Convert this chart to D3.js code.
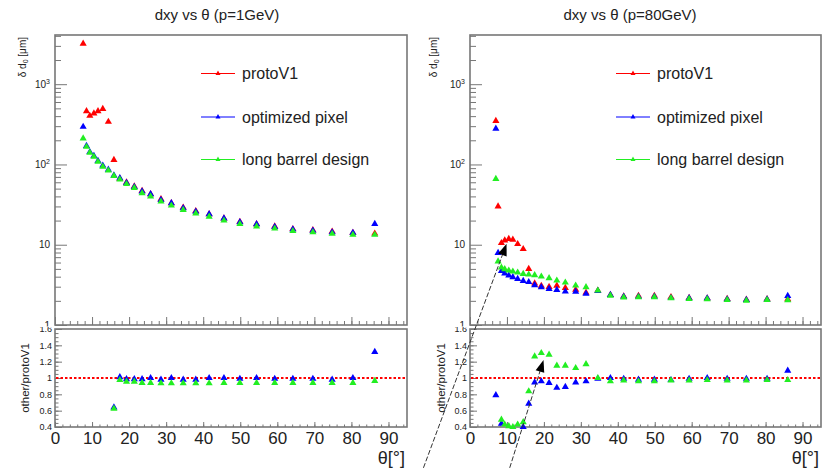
<!DOCTYPE html>
<html><head><meta charset="utf-8">
<script src="https://cdn.jsdelivr.net/npm/d3@7"></script>
<style>
body{margin:0;background:#fff}
text{font-family:"Liberation Sans",Arial,Helvetica,sans-serif}
</style>
</head><body>
<svg id="c" width="827" height="468"></svg>
<script>
// ---------- data ----------
const seriesNames = ["protoV1", "optimized pixel", "long barrel design"];
const seriesColors = ["#ff0000", "#0000ff", "#22ee22"];

// p = 1 GeV
const thetaL = [7.6, 8.5, 9.4, 10.5, 11.6, 12.9, 14.4, 15.9, 17.5, 19.3, 21.4, 23.5, 25.8, 28.6, 31.4, 34.6, 38.0, 41.6, 45.6, 49.9, 54.4, 59.3, 64.2, 69.6, 74.8, 80.4, 86.3];
const protoL = [3200, 462, 404, 432, 462, 493, 340, 114, 66.7, 59.7, 53.4, 46.8, 42.6, 36.9, 32.9, 29.1, 26.3, 24.0, 21.3, 19.3, 18.0, 16.9, 15.7, 15.2, 14.6, 14.1, 13.8];
const optL   = [295, 170, 143, 128, 111, 97, 86, 73, 67.4, 58.8, 52.6, 46.1, 42.6, 36.2, 32.9, 28.5, 25.8, 24.0, 21.3, 19.1, 18.0, 16.7, 15.5, 15.0, 14.3, 14.1, 18.2];
const longL  = [211, 166, 140, 125, 108, 94, 84, 72, 65, 57, 51, 44, 40, 34.5, 30.8, 27.2, 24.6, 22.4, 20.0, 18.1, 16.9, 15.9, 14.8, 14.3, 13.7, 13.3, 13.3];
const optRatioL  = [0.09, 0.37, 0.35, 0.30, 0.24, 0.20, 0.25, 0.64, 1.01, 0.985, 0.985, 0.985, 1.0, 0.98, 1.0, 0.98, 0.98, 1.0, 1.0, 0.99, 1.0, 0.99, 0.99, 0.99, 0.98, 1.0, 1.32];
const longRatioL = [0.066, 0.36, 0.35, 0.29, 0.23, 0.19, 0.25, 0.625, 0.975, 0.955, 0.955, 0.94, 0.94, 0.935, 0.935, 0.935, 0.935, 0.935, 0.94, 0.94, 0.94, 0.94, 0.94, 0.94, 0.94, 0.94, 0.965];

// p = 80 GeV
const thetaR = [7.0, 7.6, 8.5, 9.4, 10.5, 11.6, 12.9, 14.4, 15.9, 17.5, 19.3, 21.4, 23.5, 25.8, 28.6, 31.4, 34.6, 38.0, 41.6, 45.6, 49.9, 54.4, 59.3, 64.2, 69.6, 74.8, 80.4, 86.0];
const protoR = [348, 30, 10.5, 11.3, 11.8, 11.55, 10.2, 8.84, 5.0, 3.3, 3.08, 2.99, 3.09, 2.9, 2.76, 2.53, 2.69, 2.37, 2.28, 2.31, 2.31, 2.23, 2.18, 2.15, 2.11, 2.07, 2.10, 2.1];
const optR   = [279, 7.9, 4.73, 4.4, 4.15, 3.95, 3.75, 3.55, 3.43, 3.13, 2.96, 2.81, 2.74, 2.61, 2.6, 2.45, 2.66, 2.37, 2.26, 2.26, 2.26, 2.17, 2.16, 2.15, 2.09, 2.05, 2.08, 2.3];
const longR  = [66, 6.2, 5.2, 4.97, 4.77, 4.64, 4.5, 4.34, 4.25, 4.17, 4.02, 3.84, 3.58, 3.38, 3.1, 2.96, 2.69, 2.32, 2.21, 2.22, 2.22, 2.16, 2.11, 2.10, 2.05, 2.01, 2.05, 2.04];
const optRatioR  = [0.79, 0.26, 0.44, 0.38, 0.35, 0.34, 0.37, 0.40, 0.686, 0.947, 0.96, 0.94, 0.88, 0.89, 0.947, 0.96, 0.99, 1.0, 0.99, 0.98, 0.98, 0.975, 0.99, 1.0, 0.99, 0.99, 0.99, 1.09];
const longRatioR = [0.19, 0.21, 0.49, 0.43, 0.41, 0.40, 0.43, 0.46, 0.837, 1.265, 1.306, 1.286, 1.151, 1.151, 1.122, 1.17, 1.0, 0.96, 0.97, 0.96, 0.96, 0.97, 0.97, 0.975, 0.97, 0.97, 0.975, 0.975];

// tick labels
const xTicks = [0, 10, 20, 30, 40, 50, 60, 70, 80, 90];
const logTicks = [1, 10, 100, 1000];
const ratioTicks = [0.4, 0.6, 0.8, 1.0, 1.2, 1.4, 1.6];

// annotation arrows drawn on the 80 GeV panel (data coordinates)
const arrowsR = [
  {tail: {pad: "ratio", theta: -12.6, v: -0.1}, tip: {pad: "top", theta: 9.9, v: 10.3}},
  {tail: {pad: "ratio", theta: 10.75, v: -0.1}, tip: {pad: "ratio", theta: 19.9, v: 1.22}}
];

// ---------- layout ----------
const TOP = {y0: 35, y1: 325};
const BOT = {y0: 329, y1: 427};
const panels = [
  {x0: 55, x1: 407, title: "dxy vs θ (p=1GeV)", titleX: 217, theta: thetaL,
   vals: [protoL, optL, longL], ratios: [optRatioL, longRatioL],
   yTitleX: 22, rTitleX: 25, legX: 201, arrows: []},
  {x0: 470, x1: 821, title: "dxy vs θ (p=80GeV)", titleX: 630, theta: thetaR,
   vals: [protoR, optR, longR], ratios: [optRatioR, longRatioR],
   yTitleX: 433, rTitleX: 441, legX: 616, arrows: arrowsR}
];
const legendRows = [73.5, 117, 159.5];
const frameColor = "#777";
const textColor = "#222";

const svg = d3.select("#c");
const defs = svg.append("defs");
defs.append("clipPath").attr("id", "clipTop").append("rect")
  .attr("x", 0).attr("y", 0).attr("width", 827).attr("height", 326.5);
defs.append("clipPath").attr("id", "clipBot").append("rect")
  .attr("x", 0).attr("y", 327).attr("width", 827).attr("height", 141);

const tri = d3.symbol().type(d3.symbolTriangle).size(22);
const triSmall = d3.symbol().type(d3.symbolTriangle).size(11);

function styleAxis(g, fontSize) {
  g.select(".domain").remove();
  g.selectAll(".tick line").attr("stroke", frameColor).attr("stroke-width", 1);
  g.selectAll(".tick text").attr("fill", textColor).attr("font-size", fontSize)
    .attr("font-family", '"Liberation Sans",Arial,Helvetica,sans-serif');
}

const range = (a, b, s) => { const o = []; for (let v = a; v <= b + 1e-9; v += s) o.push(+v.toFixed(4)); return o; };
const logMinor = [];
[1, 10, 100, 1000].forEach(d => { for (let k = 2; k <= 9; k++) if (d * k <= 4100) logMinor.push(d * k); });

panels.forEach(p => {
  const x = d3.scaleLinear().domain([0, 95]).range([p.x0, p.x1]);
  const y = d3.scaleLog().domain([1, 4100]).range([TOP.y1, TOP.y0]);
  const r = d3.scaleLinear().domain([0.4, 1.6]).range([BOT.y1, BOT.y0]);

  // ---- top pad ----
  const gt = svg.append("g").attr("clip-path", "url(#clipTop)");
  gt.append("rect").attr("x", p.x0).attr("y", TOP.y0)
    .attr("width", p.x1 - p.x0).attr("height", TOP.y1 - TOP.y0)
    .attr("fill", "none").attr("stroke", frameColor).attr("stroke-width", 1.6);

  const ya = gt.append("g").attr("transform", `translate(${p.x0},0)`)
    .call(d3.axisLeft(y).tickValues(logTicks).tickSize(-12).tickPadding(5).tickFormat(d => d >= 100 ? "10" : String(d)));
  styleAxis(ya, 10);
  ya.selectAll(".tick text").each(function(d) {
    if (d >= 100) {
      d3.select(this).append("tspan").attr("dy", "-0.55em").attr("font-size", 7)
        .text(String(Math.round(Math.log10(d))));
    }
  });
  const yam = gt.append("g").attr("transform", `translate(${p.x0},0)`)
    .call(d3.axisLeft(y).tickValues(logMinor).tickSize(-6).tickFormat(""));
  styleAxis(yam, 10);

  const xa = gt.append("g").attr("transform", `translate(0,${TOP.y1})`)
    .call(d3.axisBottom(x).tickValues(xTicks).tickSize(-8).tickFormat(""));
  styleAxis(xa, 10);
  const xam = gt.append("g").attr("transform", `translate(0,${TOP.y1})`)
    .call(d3.axisBottom(x).tickValues(range(0, 94, 2)).tickSize(-4).tickFormat(""));
  styleAxis(xam, 10);

  // points: red, blue, green
  p.vals.forEach((vals, si) => {
    gt.append("g").selectAll("path").data(vals.map((v, i) => [p.theta[i], v]))
      .join("path")
      .attr("d", tri)
      .attr("transform", d => `translate(${x(d[0])},${y(d[1])})`)
      .attr("fill", seriesColors[si]);
  });

  // legend
  seriesNames.forEach((name, si) => {
    const ly = legendRows[si];
    gt.append("line").attr("x1", p.legX).attr("x2", p.legX + 34).attr("y1", ly).attr("y2", ly)
      .attr("stroke", seriesColors[si]).attr("stroke-width", 1);
    gt.append("path").attr("d", triSmall).attr("transform", `translate(${p.legX + 17},${ly})`)
      .attr("fill", seriesColors[si]);
    gt.append("text").attr("x", p.legX + 41).attr("y", ly).attr("dy", "0.35em")
      .attr("font-size", 16).attr("fill", textColor).text(name);
  });

  // y title
  const yt = gt.append("text").attr("transform", `translate(${p.yTitleX},${TOP.y0 + 2}) rotate(-90)`)
    .attr("text-anchor", "end").attr("dy", "0.35em").attr("font-size", 10).attr("fill", textColor);
  yt.append("tspan").text("δ d");
  yt.append("tspan").attr("font-size", 7).attr("dy", "0.3em").text("0");
  yt.append("tspan").attr("dy", "-0.21em").text(" [μm]");

  // title
  svg.append("text").attr("x", p.titleX).attr("y", 20).attr("text-anchor", "middle")
    .attr("font-size", 15).attr("fill", textColor).text(p.title);

  // ---- bottom pad ----
  const gb = svg.append("g").attr("clip-path", "url(#clipBot)");
  gb.append("rect").attr("x", p.x0).attr("y", BOT.y0)
    .attr("width", p.x1 - p.x0).attr("height", BOT.y1 - BOT.y0)
    .attr("fill", "none").attr("stroke", frameColor).attr("stroke-width", 1.6);

  const ra = gb.append("g").attr("transform", `translate(${p.x0},0)`)
    .call(d3.axisLeft(r).tickValues(ratioTicks).tickSize(-7).tickPadding(3)
      .tickFormat(d => Math.abs(d - 1) < 1e-9 ? "1" : d3.format(".1f")(d)));
  styleAxis(ra, 9);
  const ram = gb.append("g").attr("transform", `translate(${p.x0},0)`)
    .call(d3.axisLeft(r).tickValues(range(0.4, 1.6, 0.05)).tickSize(-3.5).tickFormat(""));
  styleAxis(ram, 9);

  const xb = gb.append("g").attr("transform", `translate(0,${BOT.y1})`)
    .call(d3.axisBottom(x).tickValues(xTicks).tickSize(-5).tickPadding(4.5).tickFormat(d3.format("d")));
  styleAxis(xb, 17);
  const xbm = gb.append("g").attr("transform", `translate(0,${BOT.y1})`)
    .call(d3.axisBottom(x).tickValues(range(0, 94, 2)).tickSize(-2.5).tickFormat(""));
  styleAxis(xbm, 17);

  // reference line at 1
  gb.append("line").attr("x1", p.x0 + 1).attr("x2", p.x1 - 1).attr("y1", r(1)).attr("y2", r(1))
    .attr("stroke", "#ff0000").attr("stroke-width", 2).attr("stroke-dasharray", "2.5,2");

  // ratio points: blue then green
  p.ratios.forEach((vals, k) => {
    const si = k + 1;
    gb.append("g").selectAll("path")
      .data(vals.map((v, i) => [p.theta[i], v]).filter(d => d[1] >= 0.4 && d[1] <= 1.6))
      .join("path")
      .attr("d", tri)
      .attr("transform", d => `translate(${x(d[0])},${r(d[1])})`)
      .attr("fill", seriesColors[si]);
  });

  gb.append("text").attr("transform", `translate(${p.rTitleX},${(BOT.y0 + BOT.y1) / 2 + 0}) rotate(-90)`)
    .attr("text-anchor", "middle").attr("dy", "0.35em").attr("font-size", 11.5).attr("fill", textColor)
    .text("other/protoV1");

  gb.append("text").attr("x", p.x1 - 2).attr("y", 464).attr("text-anchor", "end")
    .attr("font-size", 18).attr("fill", textColor).text("θ[°]");

  // ---- annotation arrows ----
  const pos = e => [x(e.theta), e.pad === "top" ? y(e.v) : r(e.v)];
  p.arrows.forEach(a => {
    const [tx, ty] = pos(a.tail), [hx, hy] = pos(a.tip);
    const L = Math.hypot(hx - tx, hy - ty), ux = (hx - tx) / L, uy = (hy - ty) / L;
    const nx = -uy, ny = ux, hl = 12, hw = 4.5;
    svg.append("line").attr("x1", tx).attr("y1", ty).attr("x2", hx - ux * 10).attr("y2", hy - uy * 10)
      .attr("stroke", "#333").attr("stroke-width", 1).attr("stroke-dasharray", "5,2");
    svg.append("path")
      .attr("d", `M${hx},${hy}L${hx - ux * hl + nx * hw},${hy - uy * hl + ny * hw}L${hx - ux * hl - nx * hw},${hy - uy * hl - ny * hw}Z`)
      .attr("fill", "#000");
  });
});
</script>
</body></html>
